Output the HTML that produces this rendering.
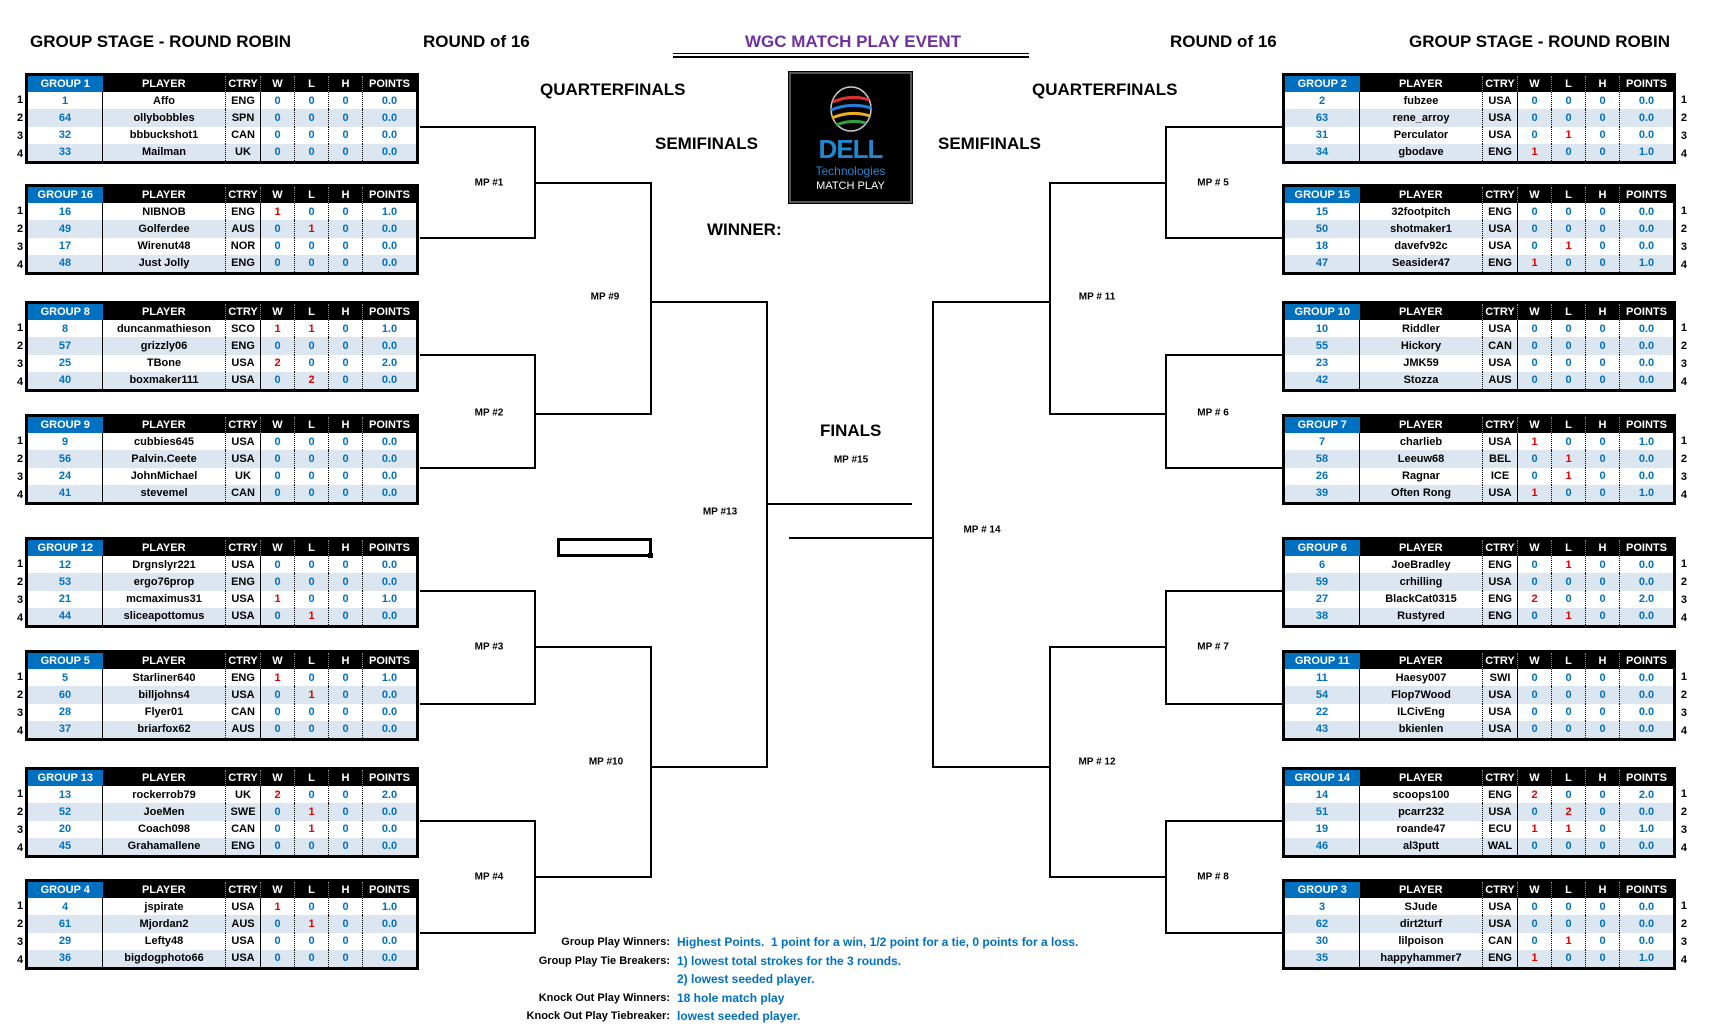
<!DOCTYPE html>
<html><head><meta charset="utf-8"><style>
body{margin:0;width:1710px;height:1034px;background:#fff;position:relative;overflow:hidden;font-family:"Liberation Sans",sans-serif}
.a{position:absolute;white-space:nowrap;font-weight:bold}
.h{font-size:17px;color:#000;transform:translateY(-50%)}
.l{position:absolute;background:#000}
.m{position:absolute;font:bold 10px "Liberation Sans",sans-serif;transform:translate(-50%,-50%);white-space:nowrap}
.g{position:absolute;width:394px;height:91px}
table{border-collapse:collapse;table-layout:fixed;width:394px;height:91px;border:3px solid #000;font:bold 11px "Liberation Sans",sans-serif}
th{background:#000;color:#fff;height:16px;padding:0;border-right:1px dotted #888;font-size:11px}
th.gp{background:#0070c0;border-right:none}
td{padding:0;height:17px;text-align:center;color:#000;border-right:1px dotted #000}
tr:nth-child(odd) td{background:#dce6f1}
td:nth-child(1){color:#0070c0;border-right:1px solid #000}
td:nth-child(3){border-right:1px solid #000}
td.b{color:#0070c0}
td.r{color:#e00000}
td:last-child{border-right:none}
.n{position:absolute;top:18px;font:bold 11px "Liberation Sans",sans-serif;line-height:18px}
.ln{left:-8px}.rn{right:-11px}
.ft{position:absolute;font:bold 11px "Liberation Sans",sans-serif;line-height:18.5px}
</style></head><body>

<div class="a h" style="left:30px;top:42px">GROUP STAGE - ROUND ROBIN</div>
<div class="a h" style="left:423px;top:42px">ROUND of 16</div>
<div class="a h" style="left:1170px;top:42px">ROUND of 16</div>
<div class="a h" style="left:1409px;top:42px">GROUP STAGE - ROUND ROBIN</div>
<div class="a h" style="left:745px;top:42px;color:#7030a0;width:213px;text-align:center">WGC MATCH PLAY EVENT</div>
<div class="l" style="left:673px;top:53px;width:356px;height:1px"></div>
<div class="l" style="left:673px;top:56px;width:356px;height:2px"></div>
<div class="a h" style="left:540px;top:90px">QUARTERFINALS</div>
<div class="a h" style="left:1032px;top:90px">QUARTERFINALS</div>
<div class="a h" style="left:655px;top:144px">SEMIFINALS</div>
<div class="a h" style="left:938px;top:144px">SEMIFINALS</div>
<div class="a h" style="left:707px;top:230px">WINNER:</div>
<div class="a h" style="left:820px;top:431px">FINALS</div>
<div class="m" style="left:851px;top:460px">MP #15</div>

<!-- logo -->
<div style="position:absolute;left:789px;top:72px;width:119px;height:127px;background:#000;border:2px solid #555;outline:1px solid #000">
<svg width="119" height="127" style="position:absolute;left:0;top:0">
<ellipse cx="60" cy="35" rx="20" ry="22" fill="none" stroke="#ccc" stroke-width="1.5"/>
<path d="M42 28 Q60 20 78 26" stroke="#e03030" stroke-width="3" fill="none"/>
<path d="M40 36 Q60 28 80 34" stroke="#2080e0" stroke-width="3" fill="none"/>
<path d="M41 44 Q60 36 79 42" stroke="#f0b020" stroke-width="3" fill="none"/>
<path d="M45 51 Q60 45 75 49" stroke="#30a040" stroke-width="3" fill="none"/>
</svg>
<div style="position:absolute;left:0;width:119px;top:60px;text-align:center;color:#1e88d0;font:bold 26px 'Liberation Sans',sans-serif;letter-spacing:-1px">DELL</div>
<div style="position:absolute;left:0;width:119px;top:90px;text-align:center;color:#1e88d0;font:12px 'Liberation Sans',sans-serif">Technologies</div>
<div style="position:absolute;left:0;width:119px;top:106px;text-align:center;color:#fff;font:11px 'Liberation Sans',sans-serif">MATCH PLAY</div>
</div>

<!-- empty box -->
<div style="position:absolute;left:557px;top:538px;width:89px;height:13px;border:3px solid #000"></div>
<div class="l" style="left:648px;top:553px;width:5px;height:5px"></div>

<!-- left lines -->
<div class="l" style="left:420px;top:126px;width:116px;height:2px"></div>
<div class="l" style="left:420px;top:237px;width:116px;height:2px"></div>
<div class="l" style="left:534px;top:126px;width:2px;height:113px"></div>
<div class="l" style="left:534px;top:182px;width:118px;height:2px"></div>
<div class="l" style="left:420px;top:354px;width:116px;height:2px"></div>
<div class="l" style="left:420px;top:467px;width:116px;height:2px"></div>
<div class="l" style="left:534px;top:354px;width:2px;height:115px"></div>
<div class="l" style="left:534px;top:413px;width:118px;height:2px"></div>
<div class="l" style="left:420px;top:590px;width:116px;height:2px"></div>
<div class="l" style="left:420px;top:703px;width:116px;height:2px"></div>
<div class="l" style="left:534px;top:590px;width:2px;height:115px"></div>
<div class="l" style="left:534px;top:646px;width:118px;height:2px"></div>
<div class="l" style="left:420px;top:820px;width:116px;height:2px"></div>
<div class="l" style="left:420px;top:932px;width:116px;height:2px"></div>
<div class="l" style="left:534px;top:820px;width:2px;height:114px"></div>
<div class="l" style="left:534px;top:876px;width:118px;height:2px"></div>
<div class="l" style="left:650px;top:182px;width:2px;height:233px"></div>
<div class="l" style="left:650px;top:301px;width:118px;height:2px"></div>
<div class="l" style="left:650px;top:646px;width:2px;height:232px"></div>
<div class="l" style="left:650px;top:766px;width:118px;height:2px"></div>
<div class="l" style="left:766px;top:301px;width:2px;height:467px"></div>
<div class="l" style="left:766px;top:503px;width:146px;height:2px"></div>
<!-- right lines -->
<div class="l" style="left:789px;top:537px;width:145px;height:2px"></div>
<div class="l" style="left:932px;top:301px;width:2px;height:467px"></div>
<div class="l" style="left:932px;top:301px;width:119px;height:2px"></div>
<div class="l" style="left:932px;top:766px;width:119px;height:2px"></div>
<div class="l" style="left:1049px;top:182px;width:2px;height:233px"></div>
<div class="l" style="left:1049px;top:646px;width:2px;height:232px"></div>
<div class="l" style="left:1049px;top:182px;width:118px;height:2px"></div>
<div class="l" style="left:1049px;top:413px;width:118px;height:2px"></div>
<div class="l" style="left:1049px;top:646px;width:118px;height:2px"></div>
<div class="l" style="left:1049px;top:876px;width:118px;height:2px"></div>
<div class="l" style="left:1165px;top:126px;width:2px;height:113px"></div>
<div class="l" style="left:1165px;top:354px;width:2px;height:115px"></div>
<div class="l" style="left:1165px;top:590px;width:2px;height:115px"></div>
<div class="l" style="left:1165px;top:820px;width:2px;height:114px"></div>
<div class="l" style="left:1165px;top:126px;width:117px;height:2px"></div>
<div class="l" style="left:1165px;top:237px;width:117px;height:2px"></div>
<div class="l" style="left:1165px;top:354px;width:117px;height:2px"></div>
<div class="l" style="left:1165px;top:467px;width:117px;height:2px"></div>
<div class="l" style="left:1165px;top:590px;width:117px;height:2px"></div>
<div class="l" style="left:1165px;top:703px;width:117px;height:2px"></div>
<div class="l" style="left:1165px;top:820px;width:117px;height:2px"></div>
<div class="l" style="left:1165px;top:932px;width:117px;height:2px"></div>

<!-- MP labels -->
<div class="m" style="left:489px;top:183px">MP #1</div>
<div class="m" style="left:489px;top:413px">MP #2</div>
<div class="m" style="left:489px;top:647px">MP #3</div>
<div class="m" style="left:489px;top:877px">MP #4</div>
<div class="m" style="left:605px;top:297px">MP #9</div>
<div class="m" style="left:606px;top:762px">MP #10</div>
<div class="m" style="left:720px;top:512px">MP #13</div>
<div class="m" style="left:982px;top:530px">MP # 14</div>
<div class="m" style="left:1097px;top:297px">MP # 11</div>
<div class="m" style="left:1097px;top:762px">MP # 12</div>
<div class="m" style="left:1213px;top:183px">MP # 5</div>
<div class="m" style="left:1213px;top:413px">MP # 6</div>
<div class="m" style="left:1213px;top:647px">MP # 7</div>
<div class="m" style="left:1213px;top:877px">MP # 8</div>

<!-- LEFT TABLES -->
<div class="g" style="left:25px;top:73px"><table><colgroup><col style="width:76px"><col style="width:123px"><col style="width:35px"><col style="width:34px"><col style="width:34px"><col style="width:34px"><col></colgroup>
<tr><th class="gp">GROUP 1</th><th>PLAYER</th><th>CTRY</th><th>W</th><th>L</th><th>H</th><th>POINTS</th></tr>
<tr><td>1</td><td>Affo</td><td>ENG</td><td class="b">0</td><td class="b">0</td><td class="b">0</td><td class="b">0.0</td></tr>
<tr><td>64</td><td>ollybobbles</td><td>SPN</td><td class="b">0</td><td class="b">0</td><td class="b">0</td><td class="b">0.0</td></tr>
<tr><td>32</td><td>bbbuckshot1</td><td>CAN</td><td class="b">0</td><td class="b">0</td><td class="b">0</td><td class="b">0.0</td></tr>
<tr><td>33</td><td>Mailman</td><td>UK</td><td class="b">0</td><td class="b">0</td><td class="b">0</td><td class="b">0.0</td></tr>
</table><div class="n ln">1<br>2<br>3<br>4</div></div>

<div class="g" style="left:25px;top:184px"><table><colgroup><col style="width:76px"><col style="width:123px"><col style="width:35px"><col style="width:34px"><col style="width:34px"><col style="width:34px"><col></colgroup>
<tr><th class="gp">GROUP 16</th><th>PLAYER</th><th>CTRY</th><th>W</th><th>L</th><th>H</th><th>POINTS</th></tr>
<tr><td>16</td><td>NIBNOB</td><td>ENG</td><td class="r">1</td><td class="b">0</td><td class="b">0</td><td class="b">1.0</td></tr>
<tr><td>49</td><td>Golferdee</td><td>AUS</td><td class="b">0</td><td class="r">1</td><td class="b">0</td><td class="b">0.0</td></tr>
<tr><td>17</td><td>Wirenut48</td><td>NOR</td><td class="b">0</td><td class="b">0</td><td class="b">0</td><td class="b">0.0</td></tr>
<tr><td>48</td><td>Just Jolly</td><td>ENG</td><td class="b">0</td><td class="b">0</td><td class="b">0</td><td class="b">0.0</td></tr>
</table><div class="n ln">1<br>2<br>3<br>4</div></div>

<div class="g" style="left:25px;top:301px"><table><colgroup><col style="width:76px"><col style="width:123px"><col style="width:35px"><col style="width:34px"><col style="width:34px"><col style="width:34px"><col></colgroup>
<tr><th class="gp">GROUP 8</th><th>PLAYER</th><th>CTRY</th><th>W</th><th>L</th><th>H</th><th>POINTS</th></tr>
<tr><td>8</td><td>duncanmathieson</td><td>SCO</td><td class="r">1</td><td class="r">1</td><td class="b">0</td><td class="b">1.0</td></tr>
<tr><td>57</td><td>grizzly06</td><td>ENG</td><td class="b">0</td><td class="b">0</td><td class="b">0</td><td class="b">0.0</td></tr>
<tr><td>25</td><td>TBone</td><td>USA</td><td class="r">2</td><td class="b">0</td><td class="b">0</td><td class="b">2.0</td></tr>
<tr><td>40</td><td>boxmaker111</td><td>USA</td><td class="b">0</td><td class="r">2</td><td class="b">0</td><td class="b">0.0</td></tr>
</table><div class="n ln">1<br>2<br>3<br>4</div></div>

<div class="g" style="left:25px;top:414px"><table><colgroup><col style="width:76px"><col style="width:123px"><col style="width:35px"><col style="width:34px"><col style="width:34px"><col style="width:34px"><col></colgroup>
<tr><th class="gp">GROUP 9</th><th>PLAYER</th><th>CTRY</th><th>W</th><th>L</th><th>H</th><th>POINTS</th></tr>
<tr><td>9</td><td>cubbies645</td><td>USA</td><td class="b">0</td><td class="b">0</td><td class="b">0</td><td class="b">0.0</td></tr>
<tr><td>56</td><td>Palvin.Ceete</td><td>USA</td><td class="b">0</td><td class="b">0</td><td class="b">0</td><td class="b">0.0</td></tr>
<tr><td>24</td><td>JohnMichael</td><td>UK</td><td class="b">0</td><td class="b">0</td><td class="b">0</td><td class="b">0.0</td></tr>
<tr><td>41</td><td>stevemel</td><td>CAN</td><td class="b">0</td><td class="b">0</td><td class="b">0</td><td class="b">0.0</td></tr>
</table><div class="n ln">1<br>2<br>3<br>4</div></div>

<div class="g" style="left:25px;top:537px"><table><colgroup><col style="width:76px"><col style="width:123px"><col style="width:35px"><col style="width:34px"><col style="width:34px"><col style="width:34px"><col></colgroup>
<tr><th class="gp">GROUP 12</th><th>PLAYER</th><th>CTRY</th><th>W</th><th>L</th><th>H</th><th>POINTS</th></tr>
<tr><td>12</td><td>Drgnslyr221</td><td>USA</td><td class="b">0</td><td class="b">0</td><td class="b">0</td><td class="b">0.0</td></tr>
<tr><td>53</td><td>ergo76prop</td><td>ENG</td><td class="b">0</td><td class="b">0</td><td class="b">0</td><td class="b">0.0</td></tr>
<tr><td>21</td><td>mcmaximus31</td><td>USA</td><td class="r">1</td><td class="b">0</td><td class="b">0</td><td class="b">1.0</td></tr>
<tr><td>44</td><td>sliceapottomus</td><td>USA</td><td class="b">0</td><td class="r">1</td><td class="b">0</td><td class="b">0.0</td></tr>
</table><div class="n ln">1<br>2<br>3<br>4</div></div>

<div class="g" style="left:25px;top:650px"><table><colgroup><col style="width:76px"><col style="width:123px"><col style="width:35px"><col style="width:34px"><col style="width:34px"><col style="width:34px"><col></colgroup>
<tr><th class="gp">GROUP 5</th><th>PLAYER</th><th>CTRY</th><th>W</th><th>L</th><th>H</th><th>POINTS</th></tr>
<tr><td>5</td><td>Starliner640</td><td>ENG</td><td class="r">1</td><td class="b">0</td><td class="b">0</td><td class="b">1.0</td></tr>
<tr><td>60</td><td>billjohns4</td><td>USA</td><td class="b">0</td><td class="r">1</td><td class="b">0</td><td class="b">0.0</td></tr>
<tr><td>28</td><td>Flyer01</td><td>CAN</td><td class="b">0</td><td class="b">0</td><td class="b">0</td><td class="b">0.0</td></tr>
<tr><td>37</td><td>briarfox62</td><td>AUS</td><td class="b">0</td><td class="b">0</td><td class="b">0</td><td class="b">0.0</td></tr>
</table><div class="n ln">1<br>2<br>3<br>4</div></div>

<div class="g" style="left:25px;top:767px"><table><colgroup><col style="width:76px"><col style="width:123px"><col style="width:35px"><col style="width:34px"><col style="width:34px"><col style="width:34px"><col></colgroup>
<tr><th class="gp">GROUP 13</th><th>PLAYER</th><th>CTRY</th><th>W</th><th>L</th><th>H</th><th>POINTS</th></tr>
<tr><td>13</td><td>rockerrob79</td><td>UK</td><td class="r">2</td><td class="b">0</td><td class="b">0</td><td class="b">2.0</td></tr>
<tr><td>52</td><td>JoeMen</td><td>SWE</td><td class="b">0</td><td class="r">1</td><td class="b">0</td><td class="b">0.0</td></tr>
<tr><td>20</td><td>Coach098</td><td>CAN</td><td class="b">0</td><td class="r">1</td><td class="b">0</td><td class="b">0.0</td></tr>
<tr><td>45</td><td>Grahamallene</td><td>ENG</td><td class="b">0</td><td class="b">0</td><td class="b">0</td><td class="b">0.0</td></tr>
</table><div class="n ln">1<br>2<br>3<br>4</div></div>

<div class="g" style="left:25px;top:879px"><table><colgroup><col style="width:76px"><col style="width:123px"><col style="width:35px"><col style="width:34px"><col style="width:34px"><col style="width:34px"><col></colgroup>
<tr><th class="gp">GROUP 4</th><th>PLAYER</th><th>CTRY</th><th>W</th><th>L</th><th>H</th><th>POINTS</th></tr>
<tr><td>4</td><td>jspirate</td><td>USA</td><td class="r">1</td><td class="b">0</td><td class="b">0</td><td class="b">1.0</td></tr>
<tr><td>61</td><td>Mjordan2</td><td>AUS</td><td class="b">0</td><td class="r">1</td><td class="b">0</td><td class="b">0.0</td></tr>
<tr><td>29</td><td>Lefty48</td><td>USA</td><td class="b">0</td><td class="b">0</td><td class="b">0</td><td class="b">0.0</td></tr>
<tr><td>36</td><td>bigdogphoto66</td><td>USA</td><td class="b">0</td><td class="b">0</td><td class="b">0</td><td class="b">0.0</td></tr>
</table><div class="n ln">1<br>2<br>3<br>4</div></div>

<!-- RIGHT TABLES -->
<div class="g" style="left:1282px;top:73px"><table><colgroup><col style="width:76px"><col style="width:123px"><col style="width:35px"><col style="width:34px"><col style="width:34px"><col style="width:34px"><col></colgroup>
<tr><th class="gp">GROUP 2</th><th>PLAYER</th><th>CTRY</th><th>W</th><th>L</th><th>H</th><th>POINTS</th></tr>
<tr><td>2</td><td>fubzee</td><td>USA</td><td class="b">0</td><td class="b">0</td><td class="b">0</td><td class="b">0.0</td></tr>
<tr><td>63</td><td>rene_arroy</td><td>USA</td><td class="b">0</td><td class="b">0</td><td class="b">0</td><td class="b">0.0</td></tr>
<tr><td>31</td><td>Perculator</td><td>USA</td><td class="b">0</td><td class="r">1</td><td class="b">0</td><td class="b">0.0</td></tr>
<tr><td>34</td><td>gbodave</td><td>ENG</td><td class="r">1</td><td class="b">0</td><td class="b">0</td><td class="b">1.0</td></tr>
</table><div class="n rn">1<br>2<br>3<br>4</div></div>

<div class="g" style="left:1282px;top:184px"><table><colgroup><col style="width:76px"><col style="width:123px"><col style="width:35px"><col style="width:34px"><col style="width:34px"><col style="width:34px"><col></colgroup>
<tr><th class="gp">GROUP 15</th><th>PLAYER</th><th>CTRY</th><th>W</th><th>L</th><th>H</th><th>POINTS</th></tr>
<tr><td>15</td><td>32footpitch</td><td>ENG</td><td class="b">0</td><td class="b">0</td><td class="b">0</td><td class="b">0.0</td></tr>
<tr><td>50</td><td>shotmaker1</td><td>USA</td><td class="b">0</td><td class="b">0</td><td class="b">0</td><td class="b">0.0</td></tr>
<tr><td>18</td><td>davefv92c</td><td>USA</td><td class="b">0</td><td class="r">1</td><td class="b">0</td><td class="b">0.0</td></tr>
<tr><td>47</td><td>Seasider47</td><td>ENG</td><td class="r">1</td><td class="b">0</td><td class="b">0</td><td class="b">1.0</td></tr>
</table><div class="n rn">1<br>2<br>3<br>4</div></div>

<div class="g" style="left:1282px;top:301px"><table><colgroup><col style="width:76px"><col style="width:123px"><col style="width:35px"><col style="width:34px"><col style="width:34px"><col style="width:34px"><col></colgroup>
<tr><th class="gp">GROUP 10</th><th>PLAYER</th><th>CTRY</th><th>W</th><th>L</th><th>H</th><th>POINTS</th></tr>
<tr><td>10</td><td>Riddler</td><td>USA</td><td class="b">0</td><td class="b">0</td><td class="b">0</td><td class="b">0.0</td></tr>
<tr><td>55</td><td>Hickory</td><td>CAN</td><td class="b">0</td><td class="b">0</td><td class="b">0</td><td class="b">0.0</td></tr>
<tr><td>23</td><td>JMK59</td><td>USA</td><td class="b">0</td><td class="b">0</td><td class="b">0</td><td class="b">0.0</td></tr>
<tr><td>42</td><td>Stozza</td><td>AUS</td><td class="b">0</td><td class="b">0</td><td class="b">0</td><td class="b">0.0</td></tr>
</table><div class="n rn">1<br>2<br>3<br>4</div></div>

<div class="g" style="left:1282px;top:414px"><table><colgroup><col style="width:76px"><col style="width:123px"><col style="width:35px"><col style="width:34px"><col style="width:34px"><col style="width:34px"><col></colgroup>
<tr><th class="gp">GROUP 7</th><th>PLAYER</th><th>CTRY</th><th>W</th><th>L</th><th>H</th><th>POINTS</th></tr>
<tr><td>7</td><td>charlieb</td><td>USA</td><td class="r">1</td><td class="b">0</td><td class="b">0</td><td class="b">1.0</td></tr>
<tr><td>58</td><td>Leeuw68</td><td>BEL</td><td class="b">0</td><td class="r">1</td><td class="b">0</td><td class="b">0.0</td></tr>
<tr><td>26</td><td>Ragnar</td><td>ICE</td><td class="b">0</td><td class="r">1</td><td class="b">0</td><td class="b">0.0</td></tr>
<tr><td>39</td><td>Often Rong</td><td>USA</td><td class="r">1</td><td class="b">0</td><td class="b">0</td><td class="b">1.0</td></tr>
</table><div class="n rn">1<br>2<br>3<br>4</div></div>

<div class="g" style="left:1282px;top:537px"><table><colgroup><col style="width:76px"><col style="width:123px"><col style="width:35px"><col style="width:34px"><col style="width:34px"><col style="width:34px"><col></colgroup>
<tr><th class="gp">GROUP 6</th><th>PLAYER</th><th>CTRY</th><th>W</th><th>L</th><th>H</th><th>POINTS</th></tr>
<tr><td>6</td><td>JoeBradley</td><td>ENG</td><td class="b">0</td><td class="r">1</td><td class="b">0</td><td class="b">0.0</td></tr>
<tr><td>59</td><td>crhilling</td><td>USA</td><td class="b">0</td><td class="b">0</td><td class="b">0</td><td class="b">0.0</td></tr>
<tr><td>27</td><td>BlackCat0315</td><td>ENG</td><td class="r">2</td><td class="b">0</td><td class="b">0</td><td class="b">2.0</td></tr>
<tr><td>38</td><td>Rustyred</td><td>ENG</td><td class="b">0</td><td class="r">1</td><td class="b">0</td><td class="b">0.0</td></tr>
</table><div class="n rn">1<br>2<br>3<br>4</div></div>

<div class="g" style="left:1282px;top:650px"><table><colgroup><col style="width:76px"><col style="width:123px"><col style="width:35px"><col style="width:34px"><col style="width:34px"><col style="width:34px"><col></colgroup>
<tr><th class="gp">GROUP 11</th><th>PLAYER</th><th>CTRY</th><th>W</th><th>L</th><th>H</th><th>POINTS</th></tr>
<tr><td>11</td><td>Haesy007</td><td>SWI</td><td class="b">0</td><td class="b">0</td><td class="b">0</td><td class="b">0.0</td></tr>
<tr><td>54</td><td>Flop7Wood</td><td>USA</td><td class="b">0</td><td class="b">0</td><td class="b">0</td><td class="b">0.0</td></tr>
<tr><td>22</td><td>ILCivEng</td><td>USA</td><td class="b">0</td><td class="b">0</td><td class="b">0</td><td class="b">0.0</td></tr>
<tr><td>43</td><td>bkienlen</td><td>USA</td><td class="b">0</td><td class="b">0</td><td class="b">0</td><td class="b">0.0</td></tr>
</table><div class="n rn">1<br>2<br>3<br>4</div></div>

<div class="g" style="left:1282px;top:767px"><table><colgroup><col style="width:76px"><col style="width:123px"><col style="width:35px"><col style="width:34px"><col style="width:34px"><col style="width:34px"><col></colgroup>
<tr><th class="gp">GROUP 14</th><th>PLAYER</th><th>CTRY</th><th>W</th><th>L</th><th>H</th><th>POINTS</th></tr>
<tr><td>14</td><td>scoops100</td><td>ENG</td><td class="r">2</td><td class="b">0</td><td class="b">0</td><td class="b">2.0</td></tr>
<tr><td>51</td><td>pcarr232</td><td>USA</td><td class="b">0</td><td class="r">2</td><td class="b">0</td><td class="b">0.0</td></tr>
<tr><td>19</td><td>roande47</td><td>ECU</td><td class="r">1</td><td class="r">1</td><td class="b">0</td><td class="b">1.0</td></tr>
<tr><td>46</td><td>al3putt</td><td>WAL</td><td class="b">0</td><td class="b">0</td><td class="b">0</td><td class="b">0.0</td></tr>
</table><div class="n rn">1<br>2<br>3<br>4</div></div>

<div class="g" style="left:1282px;top:879px"><table><colgroup><col style="width:76px"><col style="width:123px"><col style="width:35px"><col style="width:34px"><col style="width:34px"><col style="width:34px"><col></colgroup>
<tr><th class="gp">GROUP 3</th><th>PLAYER</th><th>CTRY</th><th>W</th><th>L</th><th>H</th><th>POINTS</th></tr>
<tr><td>3</td><td>SJude</td><td>USA</td><td class="b">0</td><td class="b">0</td><td class="b">0</td><td class="b">0.0</td></tr>
<tr><td>62</td><td>dirt2turf</td><td>USA</td><td class="b">0</td><td class="b">0</td><td class="b">0</td><td class="b">0.0</td></tr>
<tr><td>30</td><td>lilpoison</td><td>CAN</td><td class="b">0</td><td class="r">1</td><td class="b">0</td><td class="b">0.0</td></tr>
<tr><td>35</td><td>happyhammer7</td><td>ENG</td><td class="r">1</td><td class="b">0</td><td class="b">0</td><td class="b">1.0</td></tr>
</table><div class="n rn">1<br>2<br>3<br>4</div></div>

<!-- footer -->
<div class="ft" style="left:470px;top:933px;width:200px;text-align:right">Group Play Winners:<br>Group Play Tie Breakers:<br>&nbsp;<br>Knock Out Play Winners:<br>Knock Out Play Tiebreaker:</div>
<div class="ft" style="left:677px;top:933px;color:#0070c0;font-size:12px">Highest Points.&nbsp; 1 point for a win, 1/2 point for a tie, 0 points for a loss.<br>1) lowest total strokes for the 3 rounds.<br>2) lowest seeded player.<br>18 hole match play<br>lowest seeded player.</div>

</body></html>
